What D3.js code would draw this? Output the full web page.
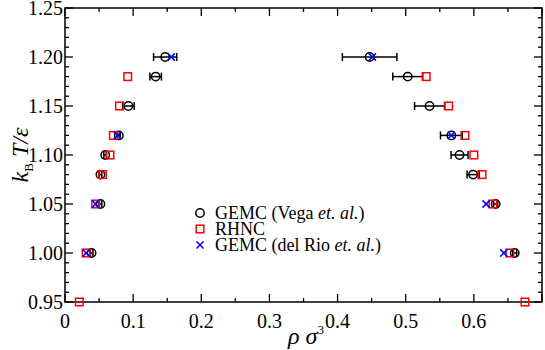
<!DOCTYPE html>
<html>
<head>
<meta charset="utf-8">
<script src="https://cdn.jsdelivr.net/npm/d3@7"></script>
<style>
  body { margin: 0; background: #fff; }
  text { font-family: "Liberation Serif", "DejaVu Serif", serif; }
</style>
</head>
<body>
<div id="chart"></div>
<script>
// GEMC (Vega et al.) - temperatures, densities of both branches, error bars
var vegaT     = [1.00, 1.05, 1.08, 1.10, 1.12, 1.15, 1.18, 1.20];
var vegaGas   = [0.039, 0.052, 0.052, 0.059, 0.079, 0.093, 0.133, 0.147];
var vegaGasE  = [0.002, 0.002, 0.002, 0.002, 0.002, 0.0085, 0.0085, 0.017];
var vegaLiq   = [0.660, 0.632, 0.599, 0.579, 0.567, 0.535, 0.503, 0.447];
var vegaLiqE  = [0.003, 0.003, 0.009, 0.0125, 0.016, 0.022, 0.022, 0.040];

// RHNC
var rhncT     = [0.95, 1.00, 1.05, 1.08, 1.10, 1.12, 1.15, 1.18];
var rhncGas   = [0.021, 0.031, 0.045, 0.055, 0.066, 0.071, 0.080, 0.092];
var rhncLiq   = [0.675, 0.653, 0.628, 0.612, 0.600, 0.587, 0.563, 0.530];

// GEMC (del Rio et al.)
var rioT      = [1.00, 1.05, 1.12, 1.20];
var rioGas    = [0.031, 0.045, 0.077, 0.156];
var rioLiq    = [0.644, 0.618, 0.567, 0.451];

var xTicks = [0, 0.1, 0.2, 0.3, 0.4, 0.5, 0.6];
var yTicks = [0.95, 1.00, 1.05, 1.10, 1.15, 1.20, 1.25];

var W = 545, H = 350;
var pL = 65, pR = 542, pT = 8, pB = 302;

var svg = d3.select("#chart").append("svg")
    .attr("width", W)
    .attr("height", H);

var x = d3.scaleLinear().domain([0, 0.7]).range([pL, pR]);
var y = d3.scaleLinear().domain([0.95, 1.25]).range([pB, pT]);

// minor / major ticks on all four sides, pointing inward
var xMinor = d3.range(0, 0.7001, 0.05);
var yMinor = d3.range(0.95, 1.2501, 0.01);

var ax = svg.append("g").attr("stroke", "#000").attr("stroke-width", 1.3);
xMinor.forEach(function(v) {
  var major = Math.abs(v * 10 - Math.round(v * 10)) < 1e-6;
  var len = major ? 8 : 4;
  ax.append("line").attr("x1", x(v)).attr("x2", x(v)).attr("y1", pB).attr("y2", pB - len);
  ax.append("line").attr("x1", x(v)).attr("x2", x(v)).attr("y1", pT).attr("y2", pT + len);
});
yMinor.forEach(function(v) {
  var major = Math.abs(v * 20 - Math.round(v * 20)) < 1e-6;
  var len = major ? 8 : 4;
  ax.append("line").attr("y1", y(v)).attr("y2", y(v)).attr("x1", pL).attr("x2", pL + len);
  ax.append("line").attr("y1", y(v)).attr("y2", y(v)).attr("x1", pR).attr("x2", pR - len);
});

svg.append("rect")
  .attr("x", pL).attr("y", pT)
  .attr("width", pR - pL).attr("height", pB - pT)
  .attr("fill", "none").attr("stroke", "#000").attr("stroke-width", 1.5);

// tick labels
svg.selectAll(".xl").data(xTicks).enter().append("text")
  .attr("x", function(d) { return x(d); })
  .attr("y", pB + 26)
  .attr("text-anchor", "middle")
  .attr("font-size", 20)
  .text(function(d) { return d === 0 ? "0" : d3.format(".1f")(d); });

svg.selectAll(".yl").data(yTicks).enter().append("text")
  .attr("x", pL - 2)
  .attr("y", function(d) { return y(d) + 7; })
  .attr("text-anchor", "end")
  .attr("font-size", 20)
  .text(function(d) { return d3.format(".2f")(d); });

// axis titles
svg.append("text")
  .attr("x", 306).attr("y", 344)
  .attr("text-anchor", "middle")
  .attr("font-size", 24)
  .attr("font-style", "italic")
  .html('ρ σ<tspan font-size="13" font-style="normal" dy="-10">3</tspan>');

svg.append("text")
  .attr("transform", "translate(28,155) rotate(-90)")
  .attr("text-anchor", "middle")
  .attr("font-size", 24)
  .attr("font-style", "italic")
  .html('k<tspan font-size="13" font-style="normal" dy="5">B</tspan><tspan dy="-5"> T/ε</tspan>');

// data layer
var g = svg.append("g");

function errbars(vals, errs) {
  vegaT.forEach(function(t, i) {
    var x0 = x(vals[i] - errs[i]), x1 = x(vals[i] + errs[i]), yy = y(t);
    g.append("line").attr("x1", x0).attr("x2", x1).attr("y1", yy).attr("y2", yy)
      .attr("stroke", "#000").attr("stroke-width", 1.5);
    [x0, x1].forEach(function(xc) {
      g.append("line").attr("x1", xc).attr("x2", xc).attr("y1", yy - 4).attr("y2", yy + 4)
        .attr("stroke", "#000").attr("stroke-width", 1.5);
    });
  });
}
errbars(vegaGas, vegaGasE);
errbars(vegaLiq, vegaLiqE);

function circles(vals) {
  g.selectAll(null).data(vegaT).enter().append("circle")
    .attr("cx", function(d, i) { return x(vals[i]); })
    .attr("cy", function(d) { return y(d); })
    .attr("r", 4.2)
    .attr("fill", "none").attr("stroke", "#000").attr("stroke-width", 1.5);
}
circles(vegaGas);
circles(vegaLiq);

function squares(vals) {
  g.selectAll(null).data(rhncT).enter().append("rect")
    .attr("x", function(d, i) { return x(vals[i]) - 3.8; })
    .attr("y", function(d) { return y(d) - 3.8; })
    .attr("width", 7.6).attr("height", 7.6)
    .attr("fill", "none").attr("stroke", "#ff0000").attr("stroke-width", 1.5);
}
squares(rhncGas);
squares(rhncLiq);

function crosses(vals) {
  rioT.forEach(function(t, i) {
    var cx = x(vals[i]), cy = y(t), s = 3.6;
    g.append("path")
      .attr("d", "M" + (cx - s) + "," + (cy - s) + "L" + (cx + s) + "," + (cy + s) +
                 "M" + (cx - s) + "," + (cy + s) + "L" + (cx + s) + "," + (cy - s))
      .attr("stroke", "#0000ff").attr("stroke-width", 1.5).attr("fill", "none");
  });
}
crosses(rioGas);
crosses(rioLiq);

// legend
var lg = svg.append("g");
var lx = 200, ly = [213, 229, 245];
lg.append("circle").attr("cx", lx).attr("cy", ly[0]).attr("r", 4.2)
  .attr("fill", "none").attr("stroke", "#000").attr("stroke-width", 1.5);
lg.append("rect").attr("x", lx - 3.8).attr("y", ly[1] - 3.8).attr("width", 7.6).attr("height", 7.6)
  .attr("fill", "none").attr("stroke", "#ff0000").attr("stroke-width", 1.5);
lg.append("path")
  .attr("d", "M" + (lx - 3.5) + "," + (ly[2] - 3.5) + "L" + (lx + 3.5) + "," + (ly[2] + 3.5) +
             "M" + (lx - 3.5) + "," + (ly[2] + 3.5) + "L" + (lx + 3.5) + "," + (ly[2] - 3.5))
  .attr("stroke", "#0000ff").attr("stroke-width", 1.5);

var labels = [
  'GEMC (Vega <tspan font-style="italic">et. al.</tspan>)',
  'RHNC',
  'GEMC (del Rio <tspan font-style="italic">et. al.</tspan>)'
];
labels.forEach(function(l, i) {
  lg.append("text").attr("x", lx + 15).attr("y", ly[i] + 6)
    .attr("font-size", 18).html(l);
});
</script>
</body>
</html>
